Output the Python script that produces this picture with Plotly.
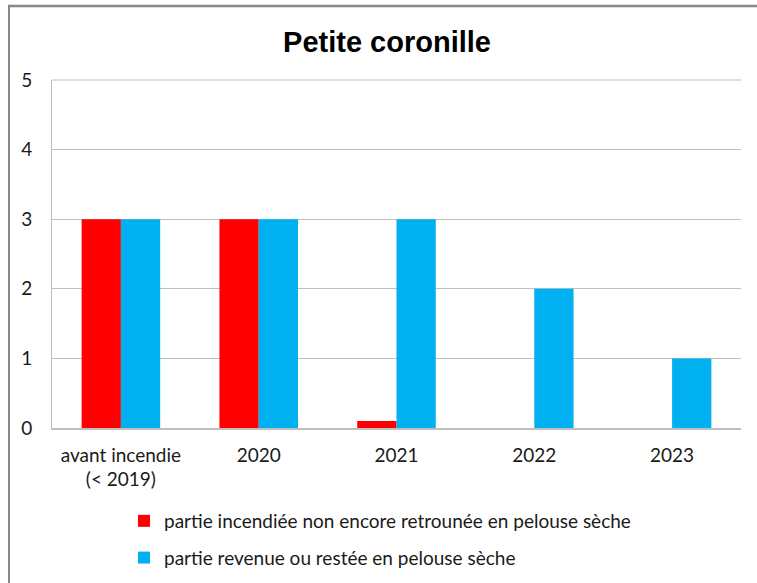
import plotly.graph_objects as go

categories = ["avant incendie<br>(< 2019)", "2020", "2021", "2022", "2023"]
burned_not_recovered = [3, 3, 0.1, 0, 0]
recovered_or_remained = [3, 3, 3, 2, 1]
series_names = [
    "partie incendiée non encore retrounée en pelouse sèche",
    "partie revenue ou restée en pelouse sèche",
]
y_ticks = [0, 1, 2, 3, 4, 5]

W, H = 757, 583
L, R, T, B = 52, 16, 80, 155
pw, ph = W - L - R, H - T - B

def px_to_paper_x(px):
    return (px - L) / pw

def px_to_paper_y(py):
    return (H - B - py) / ph

font_main = "Lato, 'Open Sans', sans-serif"
FS = 19

fig = go.Figure()
fig.add_trace(go.Bar(x=categories, y=burned_not_recovered, name=series_names[0],
                     marker=dict(color="#FF0000", line=dict(width=0)), legendgroup="a"))
fig.add_trace(go.Bar(x=categories, y=recovered_or_remained, name=series_names[1],
                     marker=dict(color="#00B0F0", line=dict(width=0)), legendgroup="b"))

fig.update_layout(
    width=W, height=H,
    margin=dict(l=L, r=R, t=T, b=B, autoexpand=False),
    paper_bgcolor="white", plot_bgcolor="white",
    barmode="group", bargap=0.43, bargroupgap=0,
    title=dict(text="<b>Petite coronille</b>", x=387 / W,
               xanchor="center", y=1 - 42 / H, yanchor="middle",
               font=dict(family="'Liberation Sans', Arial, sans-serif", size=29, color="black")),
    font=dict(family=font_main, size=FS, color="#1a1a1a"),
    showlegend=True,
    legend=dict(x=px_to_paper_x(124), xanchor="left", y=px_to_paper_y(502), yanchor="top",
                orientation="v", tracegroupgap=9, bgcolor="rgba(0,0,0,0)",
                font=dict(family=font_main, size=FS, color="#1a1a1a"),
                itemwidth=30),
    xaxis=dict(showline=True, linecolor="#BFBFBF", linewidth=1.5, ticks="",
               tickfont=dict(family=font_main, size=FS, color="#1a1a1a"),
               ticklabelstandoff=9, showgrid=False, fixedrange=True),
    yaxis=dict(range=[0, 5], tickvals=y_ticks, showgrid=True, gridcolor="#BFBFBF", gridwidth=1,
               showline=True, linecolor="#BFBFBF", linewidth=1, ticks="", zeroline=False,
               tickfont=dict(family=font_main, size=FS, color="#1a1a1a"),
               ticklabelstandoff=15, fixedrange=True),
    shapes=[
        dict(type="line", xref="paper", yref="paper",
             x0=px_to_paper_x(9), x1=px_to_paper_x(9), y0=px_to_paper_y(5), y1=px_to_paper_y(600),
             line=dict(color="#888888", width=2), layer="above"),
        dict(type="line", xref="paper", yref="paper",
             x0=px_to_paper_x(8), x1=px_to_paper_x(760), y0=px_to_paper_y(6), y1=px_to_paper_y(6),
             line=dict(color="#888888", width=2.5), layer="above"),
        dict(type="line", xref="paper", yref="paper",
             x0=0, x1=1, y0=1, y1=1, line=dict(color="#BFBFBF", width=1)),
    ],
)

fig.write_html("out.html", config={"displayModeBar": False},
               post_script="document.body.style.margin='0';document.body.style.overflow='hidden';")
